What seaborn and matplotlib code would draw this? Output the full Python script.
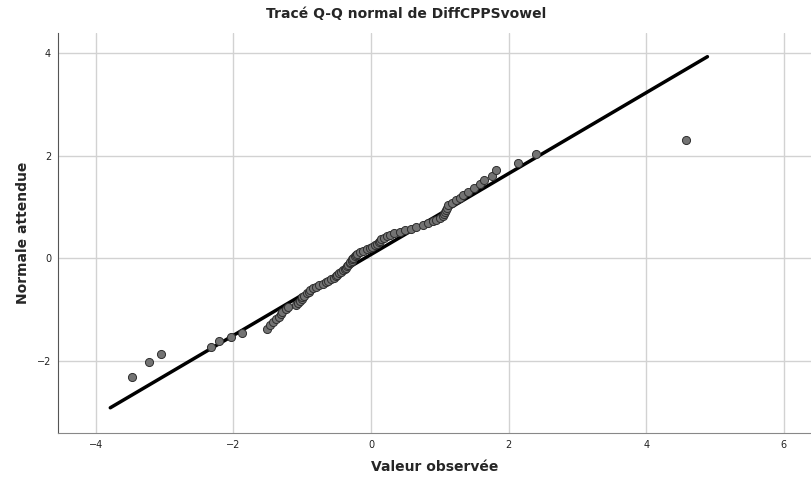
import pandas as pd
import matplotlib
matplotlib.use("Agg")
import matplotlib.pyplot as plt
import seaborn as sns

observed = [
    -3.48, -3.23, -3.06, -2.33, -2.21, -2.04, -1.87, -1.51, -1.47, -1.42,
    -1.38, -1.34, -1.31, -1.29, -1.24, -1.20, -1.09, -1.06, -1.03, -1.01,
    -1.00, -0.98, -0.93, -0.90, -0.88, -0.85, -0.80, -0.75, -0.70, -0.66,
    -0.62, -0.58, -0.54, -0.51, -0.49, -0.47, -0.44, -0.41, -0.38, -0.36,
    -0.35, -0.33, -0.31, -0.30, -0.28, -0.27, -0.26, -0.24, -0.22, -0.20,
    -0.16, -0.12, -0.06, -0.02, 0.02, 0.06, 0.09, 0.11, 0.13, 0.15,
    0.19, 0.23, 0.28, 0.33, 0.42, 0.50, 0.58, 0.66, 0.76, 0.83,
    0.90, 0.95, 1.00, 1.04, 1.06, 1.08, 1.09, 1.10, 1.12, 1.18,
    1.24, 1.29, 1.34, 1.41, 1.50, 1.58, 1.64, 1.76, 1.81, 2.13,
    2.40, 4.58,
]
expected = [
    -2.30, -2.02, -1.85, -1.72, -1.61, -1.52, -1.44, -1.37, -1.30, -1.24,
    -1.18, -1.13, -1.08, -1.03, -0.99, -0.95, -0.90, -0.87, -0.83, -0.79,
    -0.75, -0.72, -0.68, -0.65, -0.62, -0.58, -0.55, -0.52, -0.49, -0.46,
    -0.43, -0.40, -0.37, -0.34, -0.32, -0.29, -0.26, -0.23, -0.20, -0.18,
    -0.15, -0.12, -0.09, -0.07, -0.04, -0.01, 0.01, 0.04, 0.07, 0.09,
    0.12, 0.15, 0.18, 0.20, 0.23, 0.26, 0.29, 0.32, 0.34, 0.37,
    0.40, 0.43, 0.46, 0.49, 0.52, 0.55, 0.58, 0.62, 0.65, 0.68,
    0.72, 0.75, 0.79, 0.83, 0.87, 0.90, 0.95, 0.99, 1.03, 1.08,
    1.13, 1.18, 1.24, 1.30, 1.37, 1.44, 1.52, 1.61, 1.72, 1.85,
    2.02, 2.30,
]

# reference line end points
line_x = [-3.79, 4.89]
line_y = [-2.90, 3.92]

x_ticks = [-4, -2, 0, 2, 4, 6]
y_ticks = [-2, 0, 2, 4]

points = pd.DataFrame({"observed": observed, "expected": expected})
ref_line = pd.DataFrame({"x": line_x, "y": line_y})

sns.set_style("white")
plt.rcParams['font.family'] = ['DejaVu Sans']

fig = plt.figure(figsize=(8.12, 4.83), dpi=100)
ax = fig.add_axes([58 / 812, 50 / 483, 754 / 812, 400 / 483])

ax.set_xlim(-4.55, 6.41)
ax.set_ylim(-3.39, 4.38)
ax.set_xticks(x_ticks)
ax.set_yticks(y_ticks)
ax.grid(True, color="#d2d2d2", linewidth=1.0)
ax.set_axisbelow(True)

sns.lineplot(data=ref_line, x="x", y="y", color="black", linewidth=2.5, ax=ax, zorder=2)
sns.scatterplot(data=points, x="observed", y="expected", s=34, color="#737373",
                edgecolor="#2e2e2e", linewidth=0.7, ax=ax, zorder=3)

for side in ["top", "right"]:
    ax.spines[side].set_visible(False)
ax.spines["left"].set_color("#555555")
ax.spines["bottom"].set_color("#888888")
ax.tick_params(axis="both", length=0, labelsize=7, colors="#222222", pad=5)

ax.set_xlabel("Valeur observée", fontsize=10, fontweight="bold", labelpad=7)
ax.set_ylabel("Normale attendue", fontsize=10, fontweight="bold", labelpad=5)
fig.text(0.5, 1 - 14 / 483, "Tracé Q-Q normal de DiffCPPSvowel", ha="center", va="center",
         fontsize=10, fontweight="bold")

fig.savefig("out.png", dpi=100)
